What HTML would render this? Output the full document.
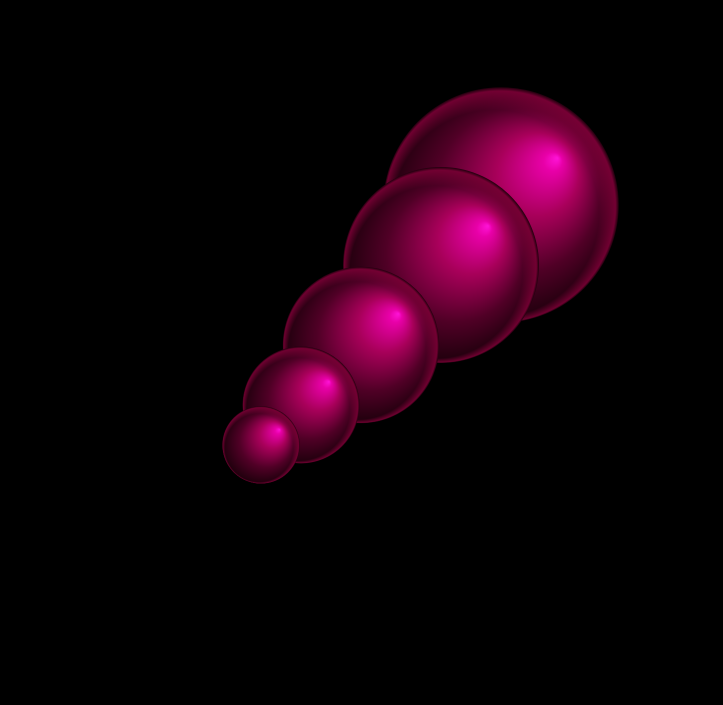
<!DOCTYPE html>
<html>
<head>
<meta charset="utf-8">
<style>
  html,body{margin:0;padding:0;background:#000;width:723px;height:705px;overflow:hidden;}
  svg{display:block;}
</style>
</head>
<body>
<svg id="chart" width="723" height="705">
  <defs>
    <radialGradient id="sphereShade" cx="0.5" cy="0.5" r="0.5" fx="0.74" fy="0.3">
      <stop offset="0" stop-color="#ff14d8"/>
      <stop offset="0.08" stop-color="#e800a8"/>
      <stop offset="0.35" stop-color="#a8005a"/>
      <stop offset="0.7" stop-color="#500026"/>
      <stop offset="1" stop-color="#1e000c"/>
    </radialGradient>
    <radialGradient id="rimLight" cx="0.5" cy="0.5" r="0.5" fx="0.3" fy="0.8">
      <stop offset="0.88" stop-color="#ff0070" stop-opacity="0"/>
      <stop offset="0.98" stop-color="#ff0070" stop-opacity="0.35"/>
      <stop offset="1" stop-color="#ff0070" stop-opacity="0.0"/>
    </radialGradient>
  </defs>
  <rect x="0" y="0" width="723" height="705" fill="#000"/>
  <g id="marks"></g>
</svg>
<script>
const xVals = [0.6, 1.0, 1.6, 2.4, 3.0];
const yVals = [0.6, 1.0, 1.6, 2.4, 3.0];
const sizes = [1, 2, 3, 4, 5];

function xScale(v){ return 201 + v * 100; }
function yScale(v){ return 505 - v * 100; }
function rScale(s){ return 19 + s * 19.75; }

const g = document.getElementById('marks');
const ns = 'http://www.w3.org/2000/svg';
const order = xVals.map((_, i) => i).sort((a, b) => sizes[b] - sizes[a]);
order.forEach(i => {
  const cx = xScale(xVals[i]), cy = yScale(yVals[i]), r = rScale(sizes[i]);
  const c = document.createElementNS(ns, 'circle');
  c.setAttribute('cx', cx); c.setAttribute('cy', cy); c.setAttribute('r', r);
  c.setAttribute('fill', 'url(#sphereShade)');
  
  
  g.appendChild(c);
  const rim = document.createElementNS(ns, 'circle');
  rim.setAttribute('cx', cx); rim.setAttribute('cy', cy); rim.setAttribute('r', r);
  rim.setAttribute('fill', 'url(#rimLight)');
  
  
  g.appendChild(rim);
});
</script>
</body>
</html>
